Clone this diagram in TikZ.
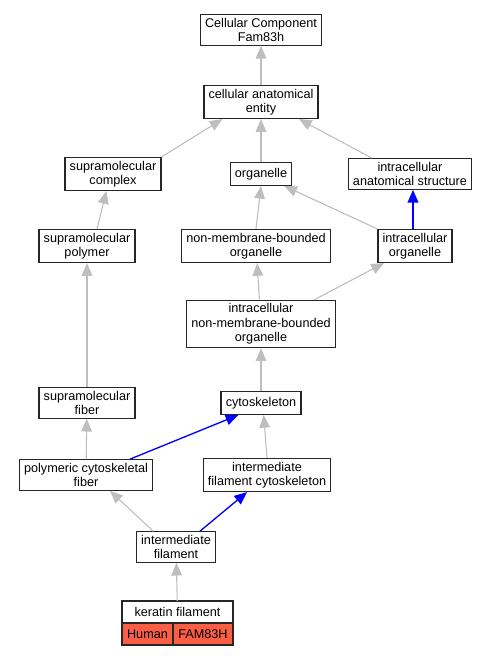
\documentclass[tikz,border=0pt]{standalone}
\usepackage{fontspec}
\setmainfont{Liberation Sans}
\usetikzlibrary{arrows.meta}
\definecolor{gene}{RGB}{250,95,70}
\definecolor{isa}{RGB}{190,190,190}
\tikzset{
  term/.style={draw=black!85, line width=1pt, fill=white, align=center,
    inner xsep=3.5pt, inner ysep=2.5pt, minimum height=17pt,
    font=\fontsize{9.5}{10.8}\selectfont},
  genebox/.style={draw=black!85, line width=1pt, fill=gene, inner sep=0pt, outer sep=0pt,
    minimum height=16.5pt, font=\fontsize{9.5}{10.8}\selectfont},
  isedge/.style={draw=isa, line width=0.8pt, ->},
  partedge/.style={draw=blue, line width=1pt, ->}
}
\begin{document}
\begin{tikzpicture}[x=0.75pt, y=-0.75pt, >={Triangle[length=9.5pt,width=8pt]}]
    \useasboundingbox[fill=white] (0,0) rectangle (491,656);
    % terms
    \node[term] (cc) at (261,30) {Cellular Component\\Fam83h};
    \node[term] (cae) at (261,102) {cellular anatomical\\entity};
    \node[term] (sc) at (113,174) {supramolecular\\complex};
    \node[term] (org) at (261,174) {organelle};
    \node[term] (ias) at (410,174) {intracellular\\anatomical structure};
    \node[term] (sp) at (87,246) {supramolecular\\polymer};
    \node[term] (nmbo) at (256,246) {non-membrane-bounded\\organelle};
    \node[term] (io) at (415,246) {intracellular\\organelle};
    \node[term] (inmbo) at (261,324) {intracellular\\non-membrane-bounded\\organelle};
    \node[term] (cyto) at (261,403) {cytoskeleton};
    \node[term] (sf) at (87,403) {supramolecular\\fiber};
    \node[term] (pcf) at (86,475) {polymeric cytoskeletal\\fiber};
    \node[term] (ifc) at (267,475) {intermediate\\filament cytoskeleton};
    \node[term] (if) at (176,547) {intermediate\\filament};
    \node[term, minimum width=83.25pt, minimum height=16.5pt, outer sep=0pt] (kf) at (177.5,612) {keratin filament};
    \node[genebox, anchor=north west, minimum width=38.25pt] (human) at (kf.south west) {Human};
    \node[genebox, anchor=north east, minimum width=45pt] (fam) at (kf.south east) {FAM83H};
    % is_a
    \draw[isedge] (cae) -- (cc);
    \draw[isedge] (sc.north east) -- ([xshift=-29pt]cae.south);
    \draw[isedge] (org) -- (cae);
    \draw[isedge] ([xshift=-28.5pt]ias.north) -- ([xshift=28.5pt]cae.south);
    \draw[isedge] ([xshift=7.5pt]sp.north) -- ([xshift=-5pt]sc.south);
    \draw[isedge] (nmbo.north) -- (org.south);
    \draw[isedge] (io.north west) -- ([xshift=-6pt]org.south east);
    \draw[isedge] (sf) -- (sp);
    \draw[isedge] (inmbo) -- (nmbo);
    \draw[isedge] ([xshift=40pt]inmbo.north) -- ([xshift=5pt]io.south west);
    \draw[isedge] (cyto) -- (inmbo);
    \draw[isedge] (pcf) -- (sf);
    \draw[isedge] (ifc.north) -- ([xshift=2pt]cyto.south);
    \draw[isedge] ([xshift=13pt]if.north west) -- ([xshift=18pt]pcf.south);
    \draw[isedge] (kf) -- (if);
    % part_of
    \draw[partedge] ([xshift=-1.5pt]io.north) -- ([xshift=-1.5pt]io.north |- ias.south);
    \draw[partedge] ([xshift=33pt]pcf.north) -- ([xshift=-17pt]cyto.south);
    \draw[partedge] ([xshift=18pt]if.north) -- ([xshift=-15pt]ifc.south);
\end{tikzpicture}
\end{document}
